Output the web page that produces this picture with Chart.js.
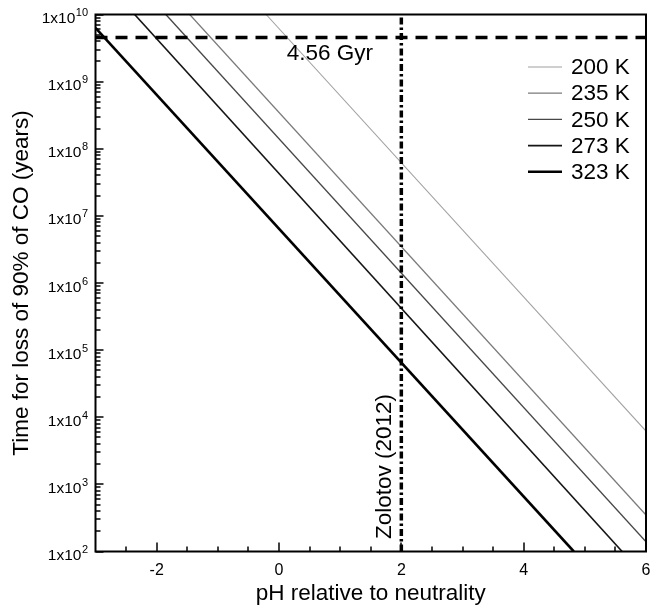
<!DOCTYPE html>
<html>
<head>
<meta charset="utf-8">
<script src="https://cdn.jsdelivr.net/npm/chart.js@4/dist/chart.umd.min.js"></script>
<style>
  body { margin: 0; background: #fff; }
  #wrap { width: 665px; height: 609px; position: relative; }
</style>
</head>
<body>
<div id="wrap"><canvas id="co-chart"></canvas></div>
<script>
// curves: time for loss of 90% of CO vs pH, one line per temperature
var temps = ['200 K', '235 K', '250 K', '273 K', '323 K'];
var phStart = [-0.21, -1.46, -1.85, -2.36, -3];
var phEnd = [6, 6, 6, 5.61, 4.82];
var timeStart = [1e10, 1e10, 1e10, 1e10, 6.3e9];
var timeEnd = [6.2e3, 3.5e2, 1.4e2, 1e2, 1e2];

var solarAge = 4.56e9;   // 4.56 Gyr
var zolotovPH = 2;

var xTickLabels = [-2, 0, 2, 4, 6];
var yExponents = [2, 3, 4, 5, 6, 7, 8, 9, 10];

var FONT = '"Liberation Sans", Arial, Helvetica, sans-serif';
var lineColors = ['#a0a0a0', '#7a7a7a', '#474747', '#151515', '#000000'];
var lineWidths = [1.1, 1.2, 1.3, 1.6, 2.6];

var datasets = temps.map(function(t, i) {
    return {
        label: t,
        data: [{x: phStart[i], y: timeStart[i]}, {x: phEnd[i], y: timeEnd[i]}],
        borderColor: lineColors[i],
        borderWidth: lineWidths[i],
        pointRadius: 0,
        tension: 0,
        order: 2
    };
});

// reference lines
datasets.push({
    label: 'age',
    data: [{x: -3, y: solarAge}, {x: 6, y: solarAge}],
    borderColor: '#000',
    borderWidth: 3.5,
    borderDash: [12, 8],
    pointRadius: 0,
    order: 1
});
datasets.push({
    label: 'zolotov',
    data: [{x: zolotovPH, y: 1e2}, {x: zolotovPH, y: 1e10}],
    borderColor: '#000',
    borderWidth: 3.5,
    borderDash: [7, 3, 2.5, 3],
    pointRadius: 0,
    order: 1
});

// inward tick marks on left and bottom axes
function drawTicks(chart) {
    var c = chart.ctx;
    var a = chart.chartArea;
    var x = chart.scales.x;
    var y = chart.scales.y;
    c.save();
    c.setLineDash([]);
    c.strokeStyle = '#000';
    c.lineWidth = 1.5;
    yExponents.forEach(function(e) {
        var py = Math.round(y.getPixelForValue(Math.pow(10, e)));
        c.beginPath();
        c.moveTo(a.left, py);
        c.lineTo(a.left + 8, py);
        c.stroke();
        if (e < 10) {
            for (var m = 2; m < 10; m++) {
                var pm = Math.round(y.getPixelForValue(m * Math.pow(10, e)));
                c.beginPath();
                c.moveTo(a.left, pm);
                c.lineTo(a.left + 5, pm);
                c.stroke();
            }
        }
    });
    for (var k = 1; k < 18; k++) {
        var v = -3 + k * 0.5;
        var px = Math.round(x.getPixelForValue(v));
        var len = xTickLabels.indexOf(v) >= 0 ? 9 : 5;
        c.beginPath();
        c.moveTo(px, a.bottom);
        c.lineTo(px, a.bottom - len);
        c.stroke();
    }
    c.restore();
}

var framePlugin = {
    id: 'frame',
    afterDraw: function(chart) {
        drawTicks(chart);
        var ctx = chart.ctx;
        var a = chart.chartArea;
        var x = chart.scales.x;
        var y = chart.scales.y;
        ctx.save();

        // frame
        ctx.strokeStyle = '#000';
        ctx.lineWidth = 2;
        ctx.strokeRect(a.left, a.top, a.right - a.left, a.bottom - a.top);

        // y labels 1x10^n
        ctx.fillStyle = '#000';
        ctx.textAlign = 'right';
        ctx.textBaseline = 'alphabetic';
        yExponents.forEach(function(e) {
            var py = y.getPixelForValue(Math.pow(10, e));
            var right = a.left - 7.5;
            ctx.font = '11px ' + FONT;
            var sup = String(e);
            var w = ctx.measureText(sup).width;
            ctx.fillText(sup, right, py + 1.5);
            ctx.font = '15.5px ' + FONT;
            ctx.fillText('1x10', right - w - 0.5, py + 8.5);
        });

        // legend
        ctx.textAlign = 'left';
        ctx.textBaseline = 'middle';
        ctx.font = '22.5px ' + FONT;
        temps.forEach(function(t, i) {
            var ry = a.top + 52.5 + i * 26.2;
            ctx.strokeStyle = lineColors[i];
            ctx.lineWidth = lineWidths[i];
            ctx.beginPath();
            ctx.moveTo(a.right - 118, ry);
            ctx.lineTo(a.right - 84, ry);
            ctx.stroke();
            ctx.fillText(t, a.right - 75, ry + 1);
        });

        // annotations
        ctx.textAlign = 'center';
        ctx.textBaseline = 'alphabetic';
        ctx.fillText('4.56 Gyr', x.getPixelForValue(zolotovPH) - 71.5, y.getPixelForValue(solarAge) + 22.5);

        ctx.translate(x.getPixelForValue(zolotovPH) - 10.5, a.bottom - 85);
        ctx.rotate(-Math.PI / 2);
        ctx.fillText('Zolotov (2012)', 0, 0);

        ctx.restore();
    }
};

var ctx = document.getElementById('co-chart').getContext('2d');

var myChart = new Chart(ctx, {
    type: 'line',
    data: { datasets: datasets },
    options: {
        responsive: true,
        maintainAspectRatio: false,
        animation: false,
        layout: {
            padding: { top: 14.5, right: 19, left: 0, bottom: 0 }
        },
        scales: {
            x: {
                type: 'linear',
                min: -3,
                max: 6,
                grid: { display: false },
                border: { display: false },
                ticks: {
                    stepSize: 1,
                    autoSkip: false,
                    maxRotation: 0,
                    padding: 1,
                    color: '#000',
                    font: { family: FONT, size: 16 },
                    callback: function(v) {
                        return xTickLabels.indexOf(v) >= 0 ? String(v) : '';
                    }
                },
                title: {
                    display: true,
                    text: 'pH relative to neutrality',
                    color: '#000',
                    font: { family: FONT, size: 22.5 },
                    padding: { top: 0, bottom: 1.5 }
                },
                afterFit: function(s) { s.height = 57.5; }
            },
            y: {
                type: 'logarithmic',
                min: 1e2,
                max: 1e10,
                grid: { display: false },
                border: { display: false },
                ticks: { display: false },
                title: {
                    display: true,
                    text: 'Time for loss of 90% of CO (years)',
                    color: '#000',
                    font: { family: FONT, size: 22.5 },
                    padding: { top: 8.5, bottom: 0 }
                },
                afterFit: function(s) { s.width = 95.5; }
            }
        },
        plugins: {
            legend: { display: false },
            tooltip: { enabled: false }
        }
    },
    plugins: [framePlugin]
});
</script>
</body>
</html>
